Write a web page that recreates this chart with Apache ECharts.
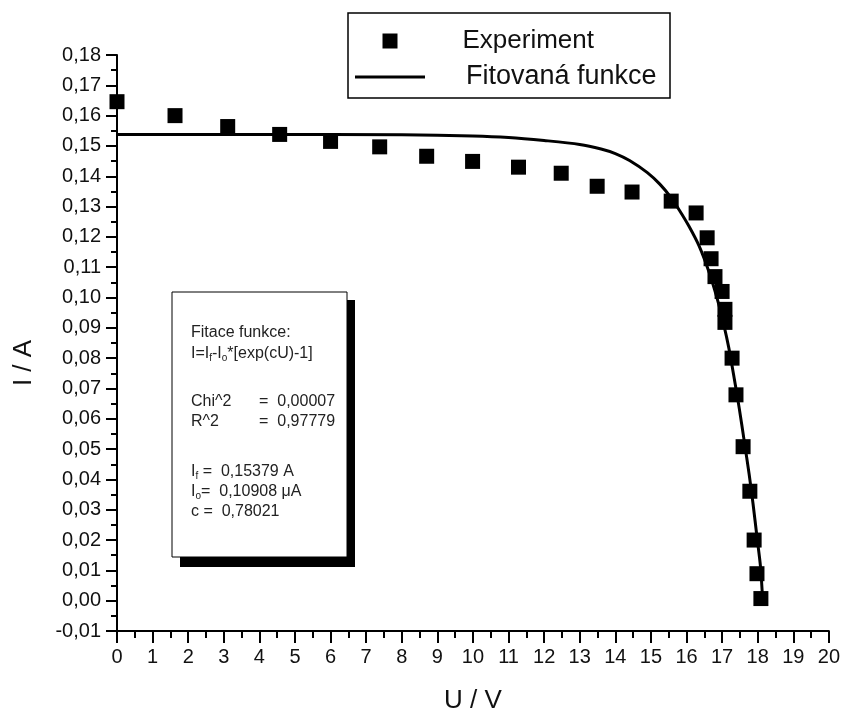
<!DOCTYPE html>
<html>
<head>
<meta charset="utf-8">
<script src="https://cdn.jsdelivr.net/npm/echarts@6/dist/echarts.min.js"></script>
<style>
html,body{margin:0;padding:0;background:#fff;}
#chart{width:843px;height:719px;}
</style>
</head>
<body>
<div id="chart"></div>
<script>
// Experimental points (U in V, I in A)
const expU = [0, 1.63, 3.11, 4.57, 6.0, 7.38, 8.70, 9.99, 11.28, 12.48, 13.49, 14.47, 15.57, 16.27, 16.58, 16.69, 16.80, 17.0, 17.08, 17.08, 17.28, 17.39, 17.59, 17.78, 17.90, 17.98, 18.09];
const expI = [0.1646, 0.1600, 0.1564, 0.1538, 0.1515, 0.1497, 0.1466, 0.1449, 0.1430, 0.1410, 0.1367, 0.1348, 0.1318, 0.1279, 0.1197, 0.1128, 0.1069, 0.1020, 0.0961, 0.0918, 0.0800, 0.0679, 0.0508, 0.0361, 0.0200, 0.0089, 0.0007];
// Fitted curve
const fitU = [0, 4, 8, 10, 11, 12, 13, 13.6, 14.0, 14.4, 14.9, 15.25, 15.55, 15.8, 16.07, 16.35, 16.63, 16.86, 17.05, 17.19, 17.34, 17.48, 17.62, 17.76, 17.87, 17.98, 18.08, 18.14];
const fitI = [0.1538, 0.1538, 0.1537, 0.1533, 0.1528, 0.1518, 0.1505, 0.1490, 0.1475, 0.1452, 0.1412, 0.1374, 0.1332, 0.1288, 0.1235, 0.1171, 0.1085, 0.0997, 0.0909, 0.0833, 0.0734, 0.0636, 0.0528, 0.0417, 0.0319, 0.0210, 0.0111, 0.0000];
const seriesNames = ['Experiment', 'Fitovaná funkce'];
const xName = 'U / V';
const yName = 'I / A';
const boxLines = {
  title: 'Fitace funkce:',
  formula: 'I=I{s|f}-I{s|o}*[exp(cU)-1]',
  chiLabel: 'Chi^2', chiValue: '=  0,00007',
  rLabel: 'R^2', rValue: '=  0,97779',
  ifLine: 'I{s|f} =  0,15379 A',
  ioLine: 'I{s|o}=  0,10908 μA',
  cLine: 'c =  0,78021'
};

const FONT = 'Liberation Sans, Arial, sans-serif';
const chart = echarts.init(document.getElementById('chart'), null, {renderer: 'canvas'});
const expData = expU.map((u, i) => [u, expI[i]]);
const fitData = fitU.map((u, i) => [u, fitI[i]]);
const txt = {fontFamily: FONT, fontSize: 16, fill: '#222', verticalAlign: 'middle',
  rich: {s: {fontFamily: FONT, fontSize: 10, fill: '#222', padding: [9, 0, 0, 0]}}};
function T(text, x, y) {
  return {type: 'text', x: x, y: y, z: 102, style: Object.assign({}, txt, {text: text})};
}

chart.setOption({
  animation: false,
  backgroundColor: '#fff',
  grid: {left: 117, right: 13, top: 55, bottom: 85, containLabel: false},
  legend: [
    {
      orient: 'vertical', left: 377.5, top: 21, itemWidth: 15, itemHeight: 15,
      icon: 'rect',
      textStyle: {fontFamily: FONT, fontSize: 26, color: '#111', lineHeight: 30, padding: [0, 0, 0, 60]},
      data: [seriesNames[0]]
    },
    {
      orient: 'vertical', left: 350, top: 57, itemWidth: 70, itemHeight: 3,
      icon: 'rect',
      textStyle: {fontFamily: FONT, fontSize: 27, color: '#111', lineHeight: 30, padding: [0, 0, 0, 36]},
      data: [seriesNames[1]]
    }
  ],
  xAxis: {
    type: 'value', min: 0, max: 20, interval: 1,
    name: xName, nameLocation: 'middle', nameGap: 57,
    nameTextStyle: {fontFamily: FONT, fontSize: 26, color: '#111'},
    axisLine: {show: true, onZero: false, lineStyle: {color: '#000', width: 2}},
    axisTick: {show: true, inside: false, length: 12, lineStyle: {color: '#000', width: 2}},
    minorTick: {show: true, splitNumber: 2, length: 7, lineStyle: {color: '#000', width: 2}},
    splitLine: {show: false},
    axisLabel: {fontFamily: FONT, fontSize: 20, color: '#111', margin: 16}
  },
  yAxis: {
    type: 'value', min: -0.01, max: 0.18, interval: 0.01,
    name: yName, nameLocation: 'middle', nameGap: 80, nameRotate: 90,
    nameTextStyle: {fontFamily: FONT, fontSize: 26, color: '#111', padding: [0, 40, 0, 0]},
    axisLine: {show: true, onZero: false, lineStyle: {color: '#000', width: 2}},
    axisTick: {show: true, inside: false, length: 11, lineStyle: {color: '#000', width: 2}},
    minorTick: {show: true, splitNumber: 2, length: 6, lineStyle: {color: '#000', width: 2}},
    splitLine: {show: false},
    axisLabel: {fontFamily: FONT, fontSize: 20, color: '#111', margin: 16,
      formatter: v => v.toFixed(2).replace('.', ',')}
  },
  series: [
    {name: seriesNames[0], type: 'scatter', symbol: 'rect', symbolSize: 15,
     itemStyle: {color: '#000', opacity: 1}, data: expData, z: 5, clip: true},
    {name: seriesNames[1], type: 'line', symbol: 'none', smooth: 0.3,
     lineStyle: {color: '#000', width: 3}, itemStyle: {color: '#000'}, data: fitData, z: 3}
  ],
  graphic: [
    {type: 'rect', shape: {x: 348, y: 13, width: 322, height: 85}, z: 90,
     style: {fill: 'none', stroke: '#000', lineWidth: 1.5}},
    {type: 'rect', shape: {x: 180, y: 300, width: 175, height: 267}, z: 100,
     style: {fill: '#000'}},
    {type: 'rect', shape: {x: 172, y: 292, width: 175, height: 265}, z: 101,
     style: {fill: '#fff', stroke: '#000', lineWidth: 1}},
    T(boxLines.title, 191, 333),
    T(boxLines.formula, 191, 354),
    T(boxLines.chiLabel, 191, 402),
    T(boxLines.chiValue, 259, 402),
    T(boxLines.rLabel, 191, 422),
    T(boxLines.rValue, 259, 422),
    T(boxLines.ifLine, 191, 472),
    T(boxLines.ioLine, 191, 492),
    T(boxLines.cLine, 191, 512)
  ]
});
</script>
</body>
</html>
